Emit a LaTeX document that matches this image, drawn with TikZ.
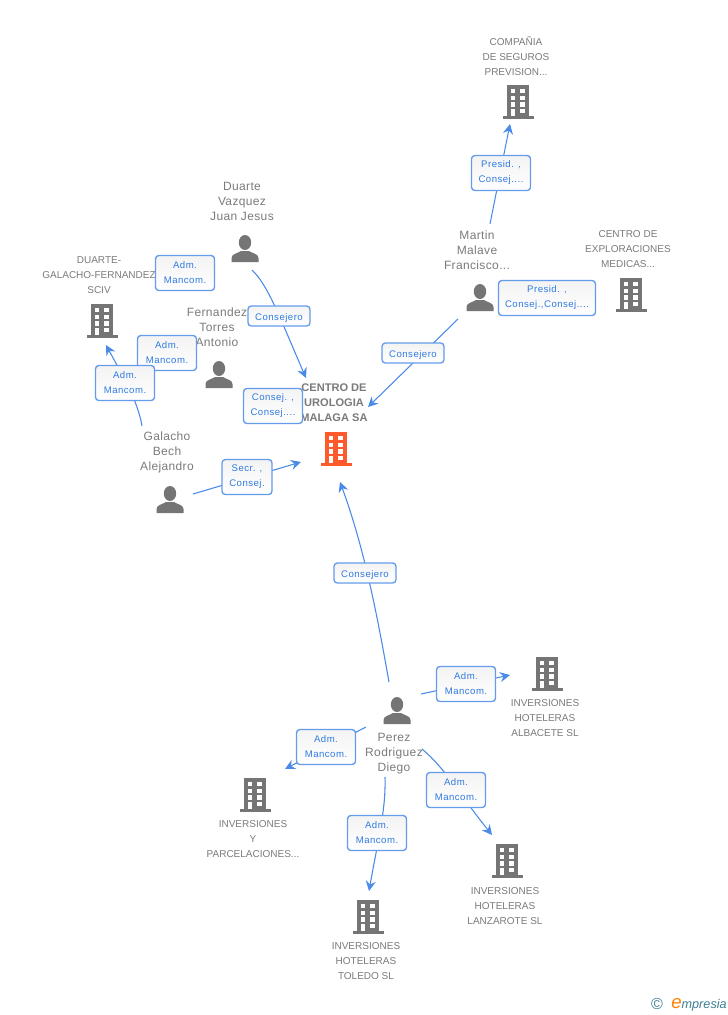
\documentclass[tikz,border=0pt]{standalone}
\usepackage{fontspec}
\setmainfont{Liberation Sans}
\newfontfamily\lblfont[LetterSpace=5]{Liberation Sans}
\newfontfamily\perfont[LetterSpace=3]{Liberation Sans}
\usetikzlibrary{arrows.meta}
\definecolor{txt}{HTML}{7B7B7B}
\definecolor{ico}{HTML}{757575}
\definecolor{lnk}{HTML}{4A8AE8}
\definecolor{lblline}{HTML}{649CEC}
\definecolor{lbltxt}{HTML}{2F7BE0}
\definecolor{lblgrey}{HTML}{F3F3F3}
\definecolor{org}{HTML}{FF5A2B}
\definecolor{brandc}{HTML}{3F7F93}
\tikzset{
 x=0.75pt,y=-0.75pt,
 caption/.style={text=txt,font=\fontsize{7.5}{11.25}\selectfont,align=center,inner sep=0pt},
 person/.style={text=txt,font=\perfont\fontsize{9}{11.25}\selectfont,align=center,inner sep=0pt},
 main/.style={text=txt,font=\bfseries\fontsize{8.3}{11.25}\selectfont,align=center,inner sep=0pt},
 rel/.style={draw=lblline,line width=1pt,rounded corners=2.5pt,top color=lblgrey,bottom color=white,text=lbltxt,font=\lblfont\fontsize{7.2}{11.25}\selectfont,align=center,inner sep=0pt,minimum height=35*0.75pt,execute at begin node={\rule{0pt}{7.6pt}}},
 relone/.style={rel,minimum height=20*0.75pt},
 conn/.style={draw=lnk,line width=0.8pt,-{Stealth[length=7.5pt,width=7.5pt,inset=2.5pt]}},
 bld/.pic={
   \fill[pic actions] (-11,-34) rectangle (11,-3);
   \fill[pic actions] (-15.5,-3) rectangle (15.5,0);
   \foreach \r in {0,1,2}{
     \fill[white] (-7.3,{-30+\r*6.7}) rectangle (-2.7,{-25.7+\r*6.7});
     \fill[white] (2.2,{-30+\r*6.7}) rectangle (7.3,{-25.7+\r*6.7});
   }
   \fill[white] (-7.3,-9.7) rectangle (-2.7,-3);
   \fill[white] (2.2,-10.3) rectangle (7.3,-6.3);
 },
 usr/.pic={
   \fill[pic actions] (0,-19.5) ellipse (6.2 and 7.5);
   \fill[pic actions] (-13.5,0) -- (-13.5,-4) .. controls (-13.5,-8) and (-8,-8.5) .. (-4,-11) -- (4,-11) .. controls (8,-8.5) and (13.5,-8) .. (13.5,-4) -- (13.5,0) -- cycle;
 }
}
\begin{document}
\begin{tikzpicture}
\useasboundingbox (0,0) rectangle (728,1015);
\fill[white] (0,0) rectangle (728,1015);

% icons
\pic[fill=ico] at (518,119) {bld};
\pic[fill=ico] at (631,312) {bld};
\pic[fill=ico] at (102,338) {bld};
\pic[fill=org] at (336,466) {bld};
\pic[fill=ico] at (547,691) {bld};
\pic[fill=ico] at (255,812) {bld};
\pic[fill=ico] at (507,878) {bld};
\pic[fill=ico] at (368,934) {bld};
\pic[fill=ico] at (245,262) {usr};
\pic[fill=ico] at (480,311) {usr};
\pic[fill=ico] at (219,388) {usr};
\pic[fill=ico] at (170,513) {usr};
\pic[fill=ico] at (397,724) {usr};

% captions
\node[caption] (tcomp) at (516,56) {COMPAÑIA\\DE SEGUROS\\PREVISION...};
\node[caption] (texpl) at (628,249) {CENTRO DE\\EXPLORACIONES\\MEDICAS...};
\node[caption] (tdg) at (99,275) {DUARTE-\\GALACHO-FERNANDEZ\\SCIV};
\node[main] (tmain) at (334,403) {CENTRO DE\\UROLOGIA\\MALAGA SA};
\node[caption] (talb) at (545,718) {INVERSIONES\\HOTELERAS\\ALBACETE SL};
\node[caption] (tparc) at (253,839) {INVERSIONES\\Y\\PARCELACIONES...};
\node[caption] (tlanz) at (505,906) {INVERSIONES\\HOTELERAS\\LANZAROTE SL};
\node[caption] (ttol) at (366,961) {INVERSIONES\\HOTELERAS\\TOLEDO SL};
\node[person] (pduarte) at (242,201) {Duarte\\Vazquez\\Juan Jesus};
\node[person] (pmartin) at (477,250) {Martin\\Malave\\Francisco...};
\node[person] (pfern) at (217,327) {Fernandez\\Torres\\Antonio};
\node[person] (pgal) at (167,452) {Galacho\\Bech\\Alejandro};
\node[person] (pperez) at (394,754) {Perez\\Rodriguez\\Diego};

% connector ends
\coordinate (a1) at (490,224); \coordinate (b1) at (510,124);
\coordinate (a3) at (458,319); \coordinate (b3) at (368,407);
\coordinate (a4) at (252,270); \coordinate (b4) at (306,378);
\coordinate (a8) at (142,426); \coordinate (b8) at (106,345);
\coordinate (a9) at (193,494); \coordinate (b9) at (301,462);
\coordinate (a10) at (389,682); \coordinate (b10) at (340,482);
\coordinate (a11) at (421,694); \coordinate (b11) at (510,675);
\coordinate (a12) at (366,727); \coordinate (b12) at (285,769);
\coordinate (a13) at (385,777); \coordinate (b13) at (369,891);
\coordinate (a14) at (422,749); \coordinate (b14) at (492,835);

\draw[conn] (a1) -- (b1);
\draw[conn] (a3) -- (b3);
\draw[conn] (a4) .. controls (268,285) and (280,318) .. (b4);
\draw[conn] (a8) .. controls (138,402) and (124,378) .. (b8);
\draw[conn] (a9) -- (b9);
\draw[conn] (a10) .. controls (378,620) and (365,550) .. (b10);
\draw[conn] (a11) -- (b11);
\draw[conn] (a12) -- (b12);
\draw[conn] (a13) .. controls (386,810) and (378,840) .. (b13);
\draw[conn] (a14) .. controls (445,768) and (460,795) .. (b14);

% labels
\node[rel,minimum width=59*0.75pt] (l1) at (501,173) {Presid. ,\\Consej....};
\node[rel,minimum width=97*0.75pt] (l2) at (547,298) {Presid. ,\\Consej.,Consej....};
\node[relone,minimum width=62*0.75pt] (l3) at (413,353) {Consejero};
\node[relone,minimum width=62*0.75pt] (l4) at (279,316) {Consejero};
\node[rel,minimum width=59*0.75pt] (l5) at (185,273) {Adm.\\Mancom.};
\node[rel,minimum width=59*0.75pt] (l6) at (273,406) {Consej. ,\\Consej....};
\node[rel,minimum width=59*0.75pt] (l7) at (167,353) {Adm.\\Mancom.};
\node[rel,minimum width=59*0.75pt] (l8) at (125,383) {Adm.\\Mancom.};
\node[rel,minimum width=50*0.75pt] (l9) at (247,477) {Secr. ,\\Consej.};
\node[relone,minimum width=62*0.75pt] (l10) at (365,573) {Consejero};
\node[rel,minimum width=59*0.75pt] (l11) at (466,684) {Adm.\\Mancom.};
\node[rel,minimum width=59*0.75pt] (l12) at (326,747) {Adm.\\Mancom.};
\node[rel,minimum width=59*0.75pt] (l13) at (377,833) {Adm.\\Mancom.};
\node[rel,minimum width=59*0.75pt] (l14) at (456,790) {Adm.\\Mancom.};

% footer
\node[text=brandc,font=\fontsize{12}{12}\selectfont,inner sep=0pt] (copy) at (657,1004) {©};
\node[inner sep=0pt,anchor=base west] (brand) at (671,1008) {\fontsize{14}{14}\itshape\selectfont\textcolor{orange}{e}\fontsize{9.5}{10}\selectfont\textcolor{brandc}{mpresia}};
\end{tikzpicture}
\end{document}
